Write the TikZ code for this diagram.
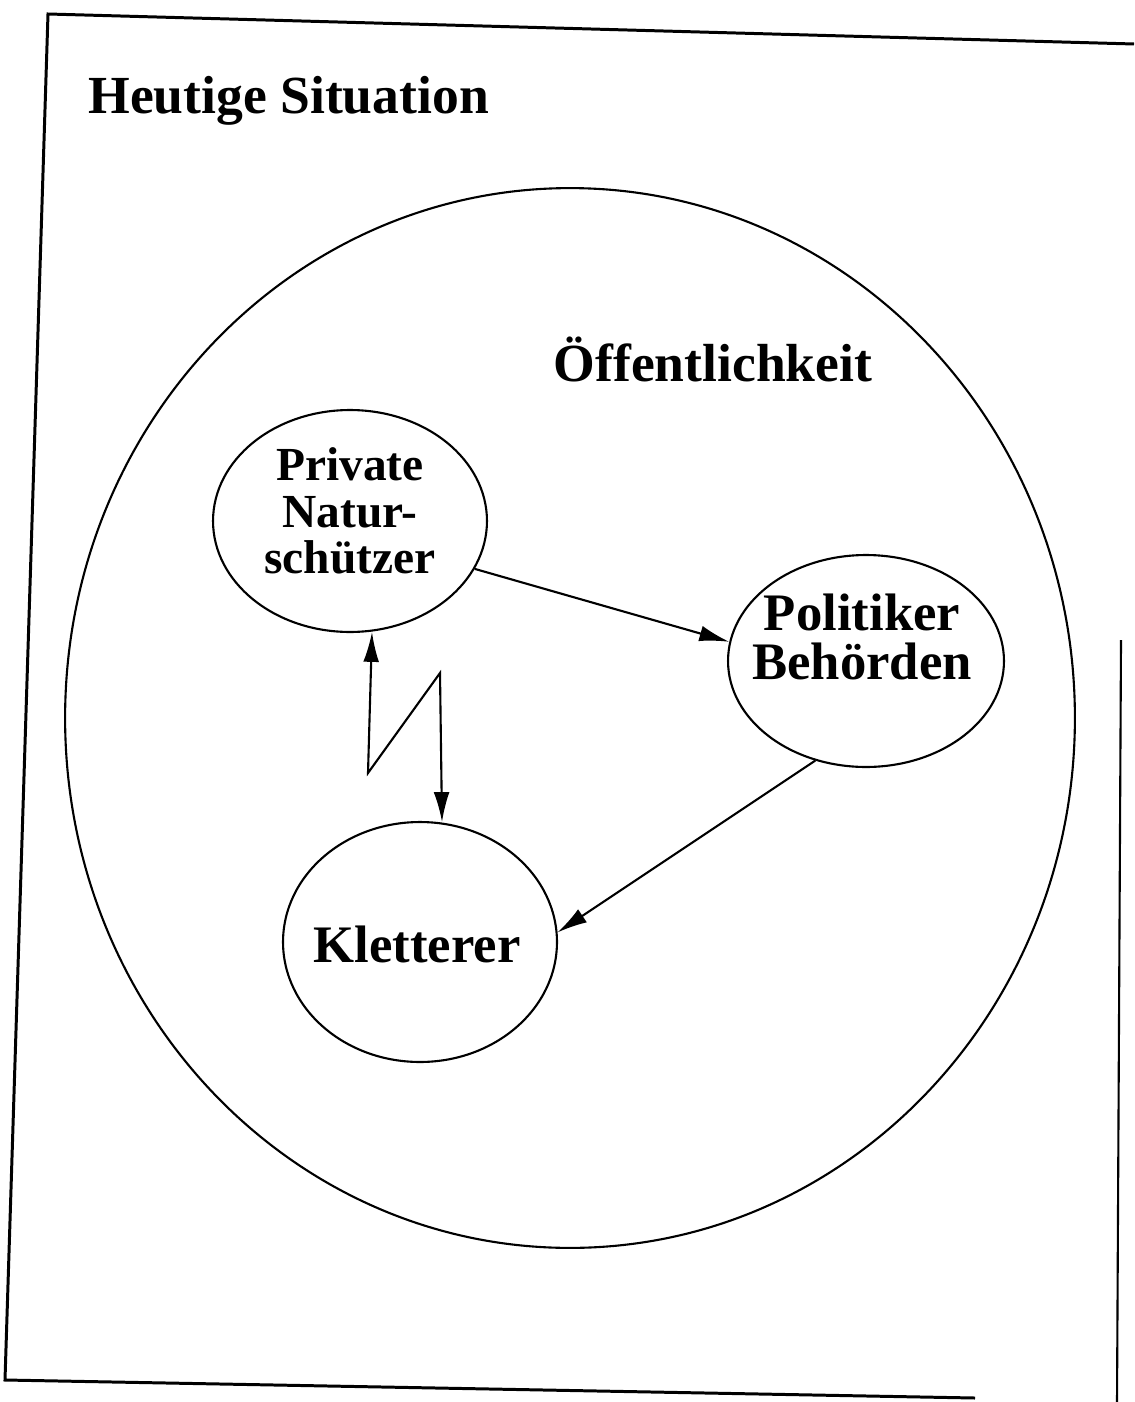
\documentclass[tikz,border=0pt]{standalone}
\usepackage{fontspec}
\setmainfont{Liberation Serif}
\usetikzlibrary{shapes.geometric,arrows.meta}
\begin{document}
\begin{tikzpicture}[x=0.02cm,y=-0.02cm,
  blob/.style={draw,ellipse,line width=1.2pt,inner sep=0pt},
  lbl/.style={align=center,inner sep=0pt},
  tip/.tip={Latex[length=17pt,width=9pt]},
  conn/.style={line width=1.2pt,-tip},
  frame/.style={line width=1.7pt}]
\useasboundingbox (0,0) rectangle (1134,1402);
% frame of the scanned page
\coordinate (ftr) at (1134,44);
\coordinate (ftl) at (48,14);
\coordinate (fbl) at (5,1380);
\coordinate (fbr) at (975,1398);
\coordinate (frt) at (1121,640);
\coordinate (frb) at (1117,1402);
\draw[frame] (ftr) -- (ftl) -- (fbl) -- (fbr);
\draw[line width=1.2pt] (frt) -- (frb);
\node[anchor=base west,inner sep=0pt,font=\bfseries\fontsize{30.5}{30}\selectfont] (title) at (88,114) {Heutige Situation};
% public sphere
\node[blob,minimum width=20.2cm,minimum height=21.2cm] (pub) at (570,718) {};
\node[anchor=base,inner sep=0pt,font=\bfseries\fontsize{30.5}{30}\selectfont] (publab) at (713,381) {Öffentlichkeit};
% actors
\node[blob,minimum width=5.48cm,minimum height=4.44cm] (priv) at (350,521) {};
\node[lbl,font=\bfseries\fontsize{27}{26.5}\selectfont] (privtxt) at (350,511) {Private\\Natur-\\schützer};
\node[blob,minimum width=5.52cm,minimum height=4.24cm] (pol) at (866,661) {};
\node[lbl,font=\bfseries\fontsize{30}{28}\selectfont] (poltxt) at (862,637) {Politiker\\Behörden};
\node[blob,minimum width=5.48cm,minimum height=4.8cm] (klet) at (420,942) {};
\node[lbl,font=\bfseries\fontsize{30}{30}\selectfont] (klettxt) at (417,944) {Kletterer};
% connectors
\draw[conn] (priv.-21) -- (pol.172);
\draw[conn] (pol.-117) -- (klet.4);
\coordinate (zs) at (372,632);
\coordinate (z1) at (368,773);
\coordinate (z2) at (440,673);
\coordinate (ze) at (442,822);
\draw[conn,tip-tip] (zs) -- (z1) -- (z2) -- (ze);
\end{tikzpicture}
\end{document}
